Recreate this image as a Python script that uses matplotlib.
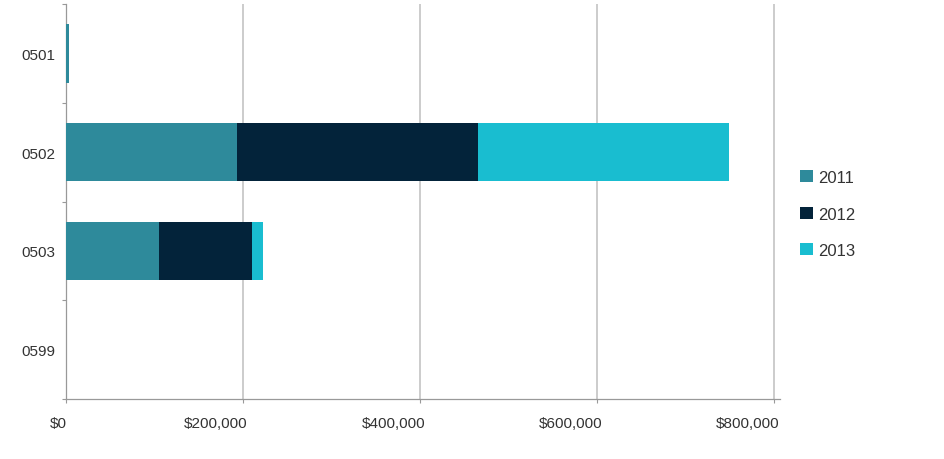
import numpy as np
import matplotlib
matplotlib.use("Agg")
import matplotlib.pyplot as plt
import matplotlib.transforms as mtransforms
from matplotlib.ticker import FuncFormatter

plt.rcParams['font.family'] = ['Liberation Sans', 'DejaVu Sans']

# data
categories = ['0501', '0502', '0503', '0599']
years = ['2011', '2012', '2013']
v2011 = [3500, 193000, 105000, 0]
v2012 = [0, 272700, 105300, 0]
v2013 = [0, 283000, 12000, 0]
colors = ['#2e8a9b', '#03233a', '#19bdd0']
x_ticks = [0, 200000, 400000, 600000, 800000]

fig = plt.figure(figsize=(9.45, 4.6), dpi=100)
ax = fig.add_axes([0.0695, 0.1304, 0.7559, 0.8587])

y = np.arange(len(categories))
left = np.zeros(len(categories))
for vals, lab, col in zip([v2011, v2012, v2013], years, colors):
    ax.barh(y, vals, left=left, height=0.59, color=col, label=lab, zorder=3)
    left = left + np.array(vals)

ax.set_ylim(3.5, -0.5)
ax.set_xlim(0, 806400)

# category boundaries as ticks, labels in the middle
ax.set_yticks(np.arange(-0.5, 4, 1))
ax.set_yticklabels([])
ax.set_yticks(y, minor=True)
ax.set_yticklabels(categories, minor=True)
ax.tick_params(axis='y', which='minor', length=0, pad=7.5, labelsize=11, labelcolor='#333333')
ax.tick_params(axis='y', which='major', length=3, width=0.8, color='#999999', direction='out')

ax.set_xticks(x_ticks)
ax.xaxis.set_major_formatter(FuncFormatter(lambda v, p: '${:,.0f}'.format(v)))
ax.tick_params(axis='x', length=3, width=0.8, color='#999999', pad=9, labelsize=11, labelcolor='#333333')
# labels sit mostly left of their gridline in the reference
shift = mtransforms.ScaledTranslation(5 / 100, 0, fig.dpi_scale_trans)
for i, t in enumerate(ax.get_xticklabels()):
    t.set_ha('right')
    t.set_transform(t.get_transform() + (mtransforms.ScaledTranslation(1 / 100, 0, fig.dpi_scale_trans) if i == 0 else shift))

ax.grid(axis='x', color='#c4c4c4', linewidth=1.2, zorder=0)
ax.set_axisbelow(True)
for s in ['top', 'right']:
    ax.spines[s].set_visible(False)
for s in ['left', 'bottom']:
    ax.spines[s].set_color('#999999')
    ax.spines[s].set_linewidth(0.9)

fig.legend(loc='center left', bbox_to_anchor=(0.847, 0.5326), frameon=False,
           handlelength=0.75, handleheight=0.75, handletextpad=0.3,
           labelspacing=1.3, borderpad=0, borderaxespad=0,
           prop={'size': 12}, labelcolor='#333333')

fig.savefig('out.png', dpi=100)
